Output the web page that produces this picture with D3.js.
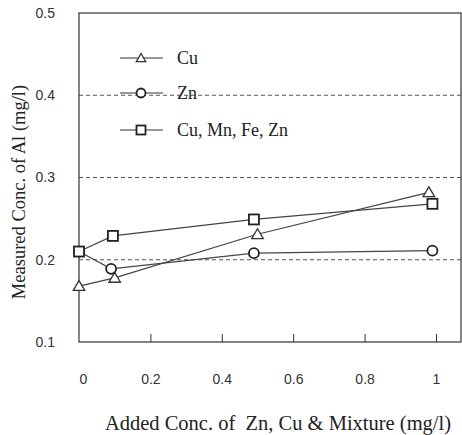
<!DOCTYPE html>
<html>
<head>
<meta charset="utf-8">
<script src="https://cdn.jsdelivr.net/npm/d3@7"></script>
<style>
  body { margin:0; background:#fff; }
  .tick text { font-family:"Liberation Sans", Arial, sans-serif; font-size:14px; fill:#333; }
</style>
</head>
<body>
<svg id="chart"></svg>
<script>
// values
var cuX = [0, 0.1, 0.5, 0.98]
var cuY = [0.168, 0.178, 0.231, 0.282]
var znX = [0, 0.09, 0.49, 0.99]
var znY = [0.21, 0.189, 0.208, 0.211]
var mixX = [0, 0.095, 0.49, 0.99]
var mixY = [0.21, 0.229, 0.249, 0.268]
var xTicks = [0, 0.2, 0.4, 0.6, 0.8, 1]
var yTicks = [0.1, 0.2, 0.3, 0.4, 0.5]
var gridLines = [0.2, 0.3, 0.4]
var seriesNames = ["Cu", "Zn", "Cu, Mn, Fe, Zn"]
var seriesShapes = ["triangle", "circle", "square"]

var screen = {width:462, height:435}
var margins = {top:13, bottom:93, left:79, right:1}
var graph = {
    width:screen.width-margins.left-margins.right,
    height:screen.height-margins.top-margins.bottom
}

var serif = "'Liberation Serif', 'Times New Roman', serif"

var svg = d3.select("#chart")
    .attr("width",screen.width)
    .attr("height",screen.height)

var xScale = d3.scaleLinear()
    .domain([0,1])
    .range([0,357])
var yScale = d3.scaleLinear()
    .domain([0.1,0.5])
    .range([graph.height,0])

var g = svg.append("g")
    .attr("transform","translate("+margins.left+","+margins.top+")")

//dashed reference lines
g.selectAll(".grid")
    .data(gridLines)
    .enter()
    .append("line")
    .attr("x1",0)
    .attr("x2",graph.width)
    .attr("y1",function(d){return yScale(d)})
    .attr("y2",function(d){return yScale(d)})
    .attr("stroke","#555")
    .attr("stroke-width",1)
    .attr("stroke-dasharray","4,3")

//frame
g.append("rect")
    .attr("width",graph.width)
    .attr("height",graph.height)
    .attr("fill","none")
    .attr("stroke","#333")
    .attr("stroke-width",1.2)

//x axis, ticks pointing up, labels well below
var xAxis = d3.axisBottom(xScale)
    .tickValues(xTicks)
    .tickSize(-8)
    .tickPadding(32)
    .tickFormat(function(d){return d3.format("")(d)})
var xg = g.append("g")
    .attr("transform","translate(0,"+graph.height+")")
    .call(xAxis)
xg.select(".domain").remove()
xg.selectAll(".tick line").attr("stroke","#333")
xg.selectAll(".tick").filter(function(d){return d==0}).select("line").remove()
xg.selectAll(".tick").filter(function(d){return d==0}).select("text").attr("x",4)

var yAxis = d3.axisLeft(yScale)
    .tickValues(yTicks)
    .tickSize(0)
    .tickPadding(24)
    .tickFormat(d3.format(".1f"))
var yg = g.append("g").call(yAxis)
yg.select(".domain").remove()

//series
var series = [
    {x:cuX, y:cuY, shape:"triangle"},
    {x:znX, y:znY, shape:"circle"},
    {x:mixX, y:mixY, shape:"square"}
]

var line = d3.line()
    .x(function(d){return xScale(d[0])})
    .y(function(d){return yScale(d[1])})

var drawMarker = function(sel, shape, cx, cy, s)
{
    if(shape=="triangle")
    {
        sel.append("path")
            .attr("d","M"+cx+","+(cy-s)+"L"+(cx+s*1.05)+","+(cy+s*0.8)+"L"+(cx-s*1.05)+","+(cy+s*0.8)+"Z")
            .attr("fill","#fff").attr("stroke","#333").attr("stroke-width",1.3)
    }
    else if(shape=="circle")
    {
        sel.append("circle")
            .attr("cx",cx).attr("cy",cy).attr("r",s)
            .attr("fill","#fff").attr("stroke","#222").attr("stroke-width",1.8)
    }
    else
    {
        sel.append("rect")
            .attr("x",cx-s).attr("y",cy-s).attr("width",2*s).attr("height",2*s)
            .attr("fill","#fff").attr("stroke","#222").attr("stroke-width",1.8)
    }
}

series.forEach(function(s)
{
    var pts = s.x.map(function(v,i){return [v,s.y[i]]})
    g.append("path")
        .attr("d",line(pts))
        .attr("fill","none")
        .attr("stroke","#444")
        .attr("stroke-width",1.2)
})
series.forEach(function(s)
{
    s.x.forEach(function(v,i)
    {
        drawMarker(g, s.shape, xScale(v), yScale(s.y[i]), s.shape=="triangle"?5.5:5)
    })
})

//legend
var legendY = [58, 93, 130]
seriesNames.forEach(function(name,i)
{
    var ly = legendY[i]
    svg.append("line")
        .attr("x1",120).attr("x2",163)
        .attr("y1",ly).attr("y2",ly)
        .attr("stroke","#333").attr("stroke-width",1.2)
    drawMarker(svg, seriesShapes[i], 141, ly, 4.5)
    svg.append("text")
        .attr("x",177).attr("y",ly+6)
        .attr("font-family",serif)
        .attr("font-size",18)
        .attr("fill","#222")
        .text(name)
})

//axis titles
svg.append("text")
    .attr("x",278).attr("y",430)
    .attr("text-anchor","middle")
    .attr("font-family",serif)
    .attr("font-size",20.5)
    .attr("fill","#222")
    .style("white-space","pre")
    .text("Added Conc. of  Zn, Cu & Mixture (mg/l)")

svg.append("text")
    .attr("transform","translate(25,192) rotate(-90)")
    .attr("text-anchor","middle")
    .attr("font-family",serif)
    .attr("font-size",18.5)
    .attr("fill","#222")
    .text("Measured Conc. of Al (mg/l)")
</script>
</body>
</html>
